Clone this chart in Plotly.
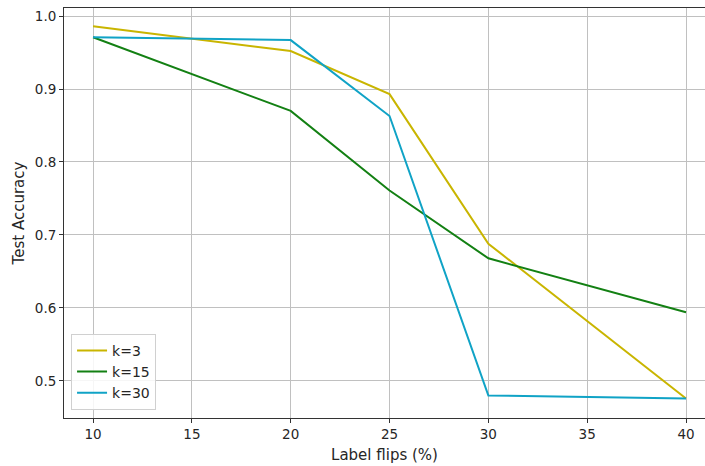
import plotly.graph_objects as go

label_flips = [10, 20, 25, 30, 40]
acc_k3 = [0.986, 0.952, 0.893, 0.688, 0.476]
acc_k15 = [0.971, 0.870, 0.761, 0.668, 0.594]
acc_k30 = [0.971, 0.967, 0.863, 0.480, 0.476]

series = [("k=3", acc_k3, "#c9b500"), ("k=15", acc_k15, "#138013"), ("k=30", acc_k30, "#10a3c6")]

fig = go.Figure()
for name, ys, col in series:
    fig.add_trace(go.Scatter(x=label_flips, y=ys, mode="lines", name=name,
                             line=dict(color=col, width=2)))

tick_font = dict(family="DejaVu Sans", size=13.5, color="#262626")
title_font = dict(family="DejaVu Sans", size=15, color="#262626")
fig.update_layout(
    width=705, height=466,
    margin=dict(l=64, r=0, t=8, b=48),
    plot_bgcolor="white", paper_bgcolor="white",
    font=tick_font,
    showlegend=True,
    legend=dict(x=0.011, y=0.02, xanchor="left", yanchor="bottom",
                bgcolor="rgba(255,255,255,0.85)", bordercolor="#d0d0d0", borderwidth=1,
                font=dict(family="DejaVu Sans", size=14, color="#262626"),
                itemwidth=30, tracegroupgap=0),
)
fig.update_xaxes(range=[8.53, 40.96], tickvals=[10, 15, 20, 25, 30, 35, 40],
                 tickfont=tick_font,
                 showgrid=True, gridcolor="#c0c0c0", gridwidth=1,
                 showline=True, linecolor="#333333", linewidth=1, mirror=True,
                 ticks="outside", ticklen=4, tickcolor="#333333",
                 zeroline=False,
                 title=dict(text="Label flips (%)", font=title_font, standoff=8))
fig.update_yaxes(range=[0.4492, 1.011], tickvals=[0.5, 0.6, 0.7, 0.8, 0.9, 1.0],
                 tickformat=".1f", tickfont=tick_font,
                 showgrid=True, gridcolor="#c0c0c0", gridwidth=1,
                 showline=True, linecolor="#333333", linewidth=1,
                 ticks="outside", ticklen=4, tickcolor="#333333",
                 zeroline=False,
                 title=dict(text="Test Accuracy", font=title_font, standoff=6))

fig.write_html("out.html")
